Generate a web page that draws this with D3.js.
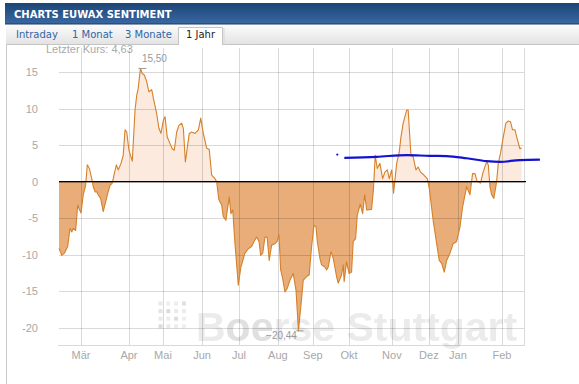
<!DOCTYPE html>
<html>
<head>
<meta charset="utf-8">
<script src="https://cdn.jsdelivr.net/npm/d3@7"></script>
<style>
  body { margin: 0; background: #fff; }
  svg { display: block; }
</style>
</head>
<body>
<svg id="chart" width="579" height="384"></svg>
<script>
// sentiment series: [trading day, value]
var days = [0, 1.5, 2.9, 4.7, 5.9, 6.9, 7.7, 9.0, 10.1, 10.8, 11.9, 13.1, 14.4, 15.3, 16.4, 17.7, 18.5, 19.5, 20.4, 21.2,
    22.5, 23.9, 25.2, 26.3, 27.6, 28.8, 29.9, 31.0, 32.0, 33.5, 34.7, 35.7, 36.6, 37.8, 39.6, 41.1, 42.0, 42.8, 44.0, 45.0,
    46.1, 47.4, 48.6, 50.1, 51.2, 52.8, 54.0, 55.1, 56.4, 57.3, 58.5, 60.0, 61.2, 62.3, 63.6, 64.8, 66.3, 67.2, 68.3, 70.4,
    71.7, 73.5, 75.3, 76.6, 78.0, 79.8, 81.2, 82.5, 84.3, 85.2, 86.4, 87.9, 88.8, 90.2, 92.0, 92.9, 93.9, 95.1, 96.9, 98.3,
    100.5, 102.3, 104.1, 105.4, 106.8, 108.1, 109.0, 110.1, 111.3, 112.5, 113.6, 114.9, 116.7, 117.9, 118.9, 119.8, 120.9, 122.1, 123.4, 124.8,
    126.6, 128.1, 129.4, 131.1, 132.0, 133.8, 135.2, 136.5, 137.8, 138.9, 139.6, 141.0, 141.9, 143.7, 144.6, 145.5, 147.0, 148.2, 150.0, 150.9,
    152.7, 153.6, 154.1, 155.4, 156.8, 158.1, 159.0, 160.3, 161.2, 162.8, 164.1, 165.2, 166.3, 168.9, 169.9, 170.9, 172.0, 173.4, 174.9, 176.1,
    177.4, 178.5, 179.8, 180.8, 182.5, 183.9, 184.8, 186.0, 187.9, 188.7, 190.2, 191.4, 192.9, 194.1, 195.4, 197.2, 199.0, 200.1, 202.2, 204.1,
    205.5, 206.8, 208.2, 209.5, 211.3, 213.0, 214.9, 216.7, 218.1, 220.3, 222.1, 223.5, 224.8, 226.0, 227.8, 229.2, 231.1, 232.0, 232.9, 233.8,
    235.0, 236.5, 237.4, 238.6, 240.1, 241.5, 242.8, 244.0, 245.1, 246.4, 247.6, 249.1, 250.0];
var values = [-9.15, -10.1, -9.8, -8.9, -6.4, -6.9, -6.4, -6.7, -3.2, -3.7, -4.3, -1.8, -0.5, 2.3, 1.8, 0.4, -0.7, -1.4, -1.4, -1.8,
    -2.3, -4.1, -2.8, -1.6, -0.5, -0.2, 1.1, 2.3, 1.6, 2.5, 3.6, 7.1, 6.8, 4.3, 2.8, 9.8, 11.8, 12.8, 15.5, 14.8,
    14.6, 13.7, 12.3, 12.6, 11.2, 9.3, 7.3, 6.6, 8.4, 8.9, 6.1, 5.2, 4.5, 4.3, 6.8, 7.7, 8.0, 7.3, 2.7, 6.6,
    6.8, 6.6, 7.1, 8.7, 6.6, 4.6, 4.4, 0.9, 0.4, 0, -2.5, -3.2, -4.8, -5.3, -2.1, -4.4, -3.9, -8.5, -14.2, -11.7,
    -9.8, -9.2, -8.9, -8.2, -7.6, -8.2, -10.1, -9.8, -7.6, -7.6, -10.8, -8.7, -8.5, -8.2, -7.3, -12.1, -13.3, -15.1, -14.6, -13.5,
    -12.6, -14.9, -20.44, -16.0, -13.5, -13.0, -12.8, -8.9, -6.0, -6.2, -8.2, -10.5, -11.4, -11.7, -12.1, -11.7, -9.6, -10.5, -13.0, -13.9,
    -12.8, -11.4, -13.7, -11.0, -12.6, -12.4, -8.2, -7.8, -4.6, -3.1, -4.4, -1.8, -3.9, -3.8, -1.2, 3.6, 1.8, 2.5, 0.4, 1.3,
    1.6, 0.4, 1.6, -1.6, 2.5, 4.1, 6.1, 8.0, 9.8, 9.8, 3.6, 3.4, 1.6, 2.0, 1.3, 0.9, 0.4, -0.9, -5.3, -8.5,
    -10.8, -11.2, -12.4, -10.8, -9.8, -8.5, -8.2, -6.2, -3.5, -0.7, -1.8, 1.1, 1.1, 0, -0.2, 1.3, 2.7, 2.3, -0.7, -1.8,
    -2.3, 0, 2.5, 3.9, 6.1, 8.0, 8.3, 8.2, 7.1, 7.1, 5.9, 4.5, 4.63];

// blue average line
var avgDays = [154.2, 171.7, 187.9, 200.5, 209.5, 220.3, 231.1, 238.3, 249.1, 259.9];
var avgValues = [3.26, 3.4, 3.63, 3.53, 3.5, 3.2, 2.8, 2.7, 2.95, 3.0];
var avgDot = [150.4, 3.7];

var monthLabels = ["Mär", "Apr", "Mai", "Jun", "Jul", "Aug", "Sep", "Okt", "Nov", "Dez", "Jan", "Feb"];
var monthDays = [11.9, 37.8, 56.2, 77.3, 97.3, 118.3, 137.2, 156.7, 179.9, 199.9, 215.6, 239.4];
var yTicks = [-20, -15, -10, -5, 0, 5, 10, 15];
var tabs = ["Intraday", "1 Monat", "3 Monate", "1 Jahr"];

var data = days.map(function(d, i){ return {day: d, v: values[i]}; });
var avg = avgDays.map(function(d, i){ return {day: d, v: avgValues[i]}; });

var svg = d3.select("#chart");
var fontArial = "'Liberation Sans', Arial, sans-serif";
var fontVerdana = "'DejaVu Sans', Verdana, sans-serif";

var x = d3.scaleLinear().domain([0, 251.3]).range([59, 524]);
var y = d3.scaleLinear().domain([-22.38, 18.3]).range([345, 48]);

// header
var defs = svg.append("defs");
var hg = defs.append("linearGradient").attr("id", "hdr").attr("x1", 0).attr("y1", 0).attr("x2", 0).attr("y2", 1);
hg.append("stop").attr("offset", "0%").attr("stop-color", "#1c4576");
hg.append("stop").attr("offset", "100%").attr("stop-color", "#3a68a2");
var tg = defs.append("linearGradient").attr("id", "tabbar").attr("x1", 0).attr("y1", 0).attr("x2", 0).attr("y2", 1);
tg.append("stop").attr("offset", "0%").attr("stop-color", "#fbfbfb");
tg.append("stop").attr("offset", "100%").attr("stop-color", "#e3e3e3");
defs.append("filter").attr("id", "soft").append("feGaussianBlur").attr("stdDeviation", 0.7);

svg.append("rect").attr("x", 5).attr("y", 3).attr("width", 574).attr("height", 21).attr("fill", "url(#hdr)");
svg.append("line").attr("x1", 5).attr("x2", 579).attr("y1", 24).attr("y2", 24).attr("stroke", "#183a63");
svg.append("text").attr("x", 14).attr("y", 18)
    .attr("font-family", fontVerdana).attr("font-size", "10px").attr("font-weight", "bold")
    .attr("fill", "#fff").text("CHARTS EUWAX SENTIMENT");

// tabs
svg.append("rect").attr("x", 6).attr("y", 25).attr("width", 573).attr("height", 19).attr("fill", "url(#tabbar)");
svg.append("line").attr("x1", 6).attr("x2", 579).attr("y1", 44.5).attr("y2", 44.5).attr("stroke", "#c4c4c4");
svg.append("path").attr("d", "M178.5,45 V27.5 H222.5 V45").attr("fill", "#fff").attr("stroke", "#c4c4c4");
svg.append("line").attr("x1", 224).attr("x2", 224).attr("y1", 28).attr("y2", 45).attr("stroke", "#d8d8d8");
var tabX = [16, 72, 125, 186];
svg.selectAll(".tab").data(tabs).enter().append("text")
    .attr("class", "tab")
    .attr("x", function(d, i){ return tabX[i]; })
    .attr("y", 38)
    .attr("font-family", fontVerdana).attr("font-size", "10px")
    .attr("fill", function(d, i){ return i == 3 ? "#222" : "#2d66a8"; })
    .text(function(d){ return d; });

// frame left border
svg.append("line").attr("x1", 6.5).attr("x2", 6.5).attr("y1", 45).attr("y2", 384).attr("stroke", "#cccccc");

svg.append("text").attr("x", 46).attr("y", 53)
    .attr("font-family", fontArial).attr("font-size", "11px")
    .attr("fill", "#aaaaaa").text("Letzter Kurs: 4,63");

// watermark
var wm = svg.append("g").attr("filter", "url(#soft)");
var dotRows = [0, 1, 2, 3], dotCols = [0, 1, 2, 3];
var dotShade = [
    ["#e8e8e8", "#eeeeee", "#eeeeee", "#e0e0e0"],
    ["#e4e4e4", "#dcdcdc", "#eaeaea", "#ededed"],
    ["#eaeaea", "#ededed", "#dddddd", "#eeeeee"],
    ["#dcdcdc", "#eaeaea", "#ededed", "#efefef"]];
dotRows.forEach(function(r){
    dotCols.forEach(function(c){
        wm.append("rect")
            .attr("x", 158.5 + c * 7.8).attr("y", 301.5 + r * 7.6)
            .attr("width", 4).attr("height", 4)
            .attr("fill", dotShade[r][c]);
    });
});
var wmText = wm.append("text").attr("x", 196).attr("y", 341)
    .attr("font-family", fontArial).attr("font-size", "41px").attr("font-weight", "bold")
    .attr("fill", "#ebebeb");
wmText.append("tspan").text("B");
wmText.append("tspan").attr("fill", "#e0e0e0").text("oe");
wmText.append("tspan").text("rse Stuttgart");

// area fills
var zero = y(0);
defs.append("clipPath").attr("id", "above").append("rect")
    .attr("x", 0).attr("y", 0).attr("width", 579).attr("height", zero);
defs.append("clipPath").attr("id", "below").append("rect")
    .attr("x", 0).attr("y", zero).attr("width", 579).attr("height", 384 - zero);

var area = d3.area()
    .x(function(d){ return x(d.day); })
    .y0(zero)
    .y1(function(d){ return y(d.v); });

svg.append("path").datum(data).attr("d", area)
    .attr("clip-path", "url(#above)").attr("fill", "#fbeadd");
svg.append("path").datum(data).attr("d", area)
    .attr("clip-path", "url(#below)").attr("fill", "#e8ad78");

// grid
var grid = svg.append("g").attr("stroke", "rgba(0,0,0,0.15)").attr("shape-rendering", "crispEdges");
grid.selectAll(".hg").data(yTicks).enter().append("line")
    .attr("x1", 59).attr("x2", 524)
    .attr("y1", function(d){ return Math.round(y(d)) + 0.5; })
    .attr("y2", function(d){ return Math.round(y(d)) + 0.5; });
grid.selectAll(".vg").data(monthDays).enter().append("line")
    .attr("x1", function(d){ return Math.round(x(d)) + 0.5; })
    .attr("x2", function(d){ return Math.round(x(d)) + 0.5; })
    .attr("y1", 48).attr("y2", 345);
grid.append("line").attr("x1", 524.5).attr("x2", 524.5).attr("y1", 48).attr("y2", 345);
grid.append("line").attr("x1", 58).attr("x2", 525).attr("y1", 345.5).attr("y2", 345.5);

// line
var line = d3.line()
    .x(function(d){ return x(d.day); })
    .y(function(d){ return y(d.v); });
svg.append("path").datum(data).attr("d", line)
    .attr("fill", "none").attr("stroke", "#d5812a").attr("stroke-width", 1.1)
    .attr("stroke-linejoin", "round");

// zero line
svg.append("line").attr("x1", 59).attr("x2", 526).attr("y1", zero).attr("y2", zero)
    .attr("stroke", "#000").attr("stroke-width", 1.4);

// axes labels
svg.selectAll(".yl").data(yTicks).enter().append("text")
    .attr("x", 38).attr("y", function(d){ return y(d) + 4; })
    .attr("text-anchor", "end")
    .attr("font-family", fontArial).attr("font-size", "11px").attr("fill", "#a8a8a8")
    .text(function(d){ return d; });
svg.selectAll(".xl").data(monthLabels).enter().append("text")
    .attr("x", function(d, i){ return x(monthDays[i]); })
    .attr("y", 359)
    .attr("text-anchor", "middle")
    .attr("font-family", fontArial).attr("font-size", "11px").attr("fill", "#a8a8a8")
    .text(function(d){ return d; });

// max / min markers
var maxD = data[d3.maxIndex(data, function(d){ return d.v; })];
var minD = data[d3.minIndex(data, function(d){ return d.v; })];
var fmt = function(v){ return d3.format(".2f")(v).replace(".", ","); };
svg.append("line").attr("x1", x(maxD.day) - 2).attr("x2", x(maxD.day) + 6)
    .attr("y1", y(maxD.v)).attr("y2", y(maxD.v)).attr("stroke", "#999");
svg.append("text").attr("x", x(maxD.day) + 1.5).attr("y", y(maxD.v) - 6)
    .attr("font-family", fontArial).attr("font-size", "10px").attr("fill", "#999")
    .text(fmt(maxD.v));
svg.append("line").attr("x1", x(minD.day) - 2).attr("x2", x(minD.day) + 5)
    .attr("y1", y(minD.v)).attr("y2", y(minD.v)).attr("stroke", "#999");
svg.append("text").attr("x", x(minD.day) - 1.5).attr("y", y(minD.v) + 8)
    .attr("text-anchor", "end")
    .attr("font-family", fontArial).attr("font-size", "10px").attr("fill", "#999")
    .text(fmt(minD.v));

// blue average
svg.append("path").datum(avg)
    .attr("d", d3.line().curve(d3.curveMonotoneX)
        .x(function(d){ return x(d.day); })
        .y(function(d){ return y(d.v); }))
    .attr("fill", "none").attr("stroke", "#1212d0").attr("stroke-width", 2.2);
svg.append("circle").attr("cx", x(avgDot[0])).attr("cy", y(avgDot[1])).attr("r", 1.1).attr("fill", "#1212d0");
</script>
</body>
</html>
